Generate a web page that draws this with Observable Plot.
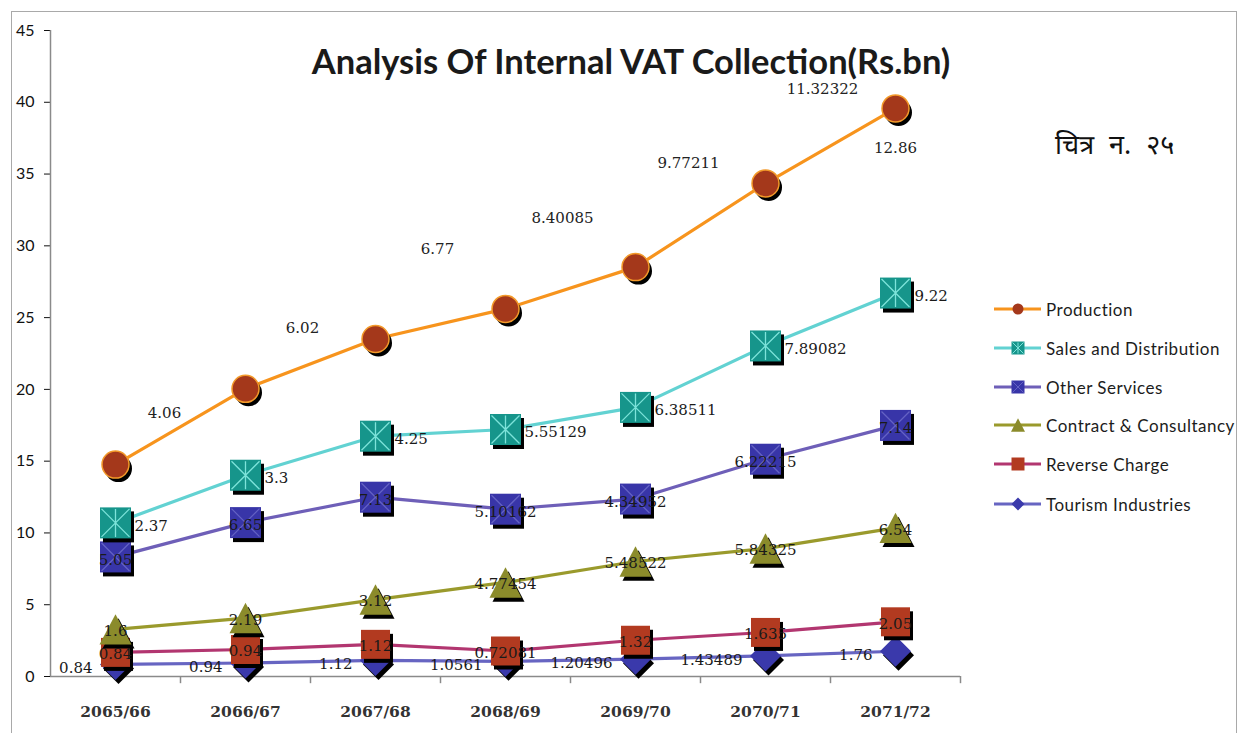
<!DOCTYPE html>
<html>
<head>
<meta charset="utf-8">
<script src="https://cdn.jsdelivr.net/npm/d3@7"></script>
<script src="https://cdn.jsdelivr.net/npm/@observablehq/plot@0.6"></script>
<style>
  html, body { margin: 0; padding: 0; background: #fff; }
  #wrap { position: relative; width: 1243px; height: 733px; overflow: hidden; background: #fff; }
  #frame { position: absolute; left: 11px; top: 11px; width: 1226px; height: 760px; border: 1.5px solid #a9a9a9; box-sizing: border-box; }
  #chart { position: absolute; left: 0; top: 0; }
  #title { position: absolute; left: 631px; top: 44px; transform: translateX(-50%); white-space: nowrap;
           font-family: Lato, "Open Sans", sans-serif; font-size: 34.5px; font-weight: bold; line-height: 34px; color: #1a1a1a; }
  #fig { position: absolute; left: 1055px; top: 131px; white-space: nowrap; word-spacing: 8px;
         font-family: "Noto Sans Devanagari", "Lohit Devanagari", "Noto Sans", "DejaVu Sans", sans-serif; font-size: 27px; line-height: 34px; color: #111; }
  #legend { position: absolute; left: 993px; top: 0; }
  .lg-row { position: absolute; left: 0; height: 22px; display: flex; align-items: center; white-space: nowrap; }
  .lg-row span { font-family: Lato, "Open Sans", sans-serif; font-size: 17px; letter-spacing: 0.5px; color: #1c1c1c; margin-left: 3px; }
</style>
</head>
<body>
<div id="wrap">
  <div id="frame"></div>
  <div id="chart"></div>
  <div id="title">Analysis Of Internal VAT Collection(Rs.bn)</div>
  <div id="fig">चित्र न. २५</div>
  <div id="legend"></div>
</div>
<script>
// ---------------- data ----------------
const categories = ["2065/66", "2066/67", "2067/68", "2068/69", "2069/70", "2070/71", "2071/72"];
const seriesNames = ["Production", "Sales and Distribution", "Other Services", "Contract & Consultancy", "Reverse Charge", "Tourism Industries"];
const production    = [4.06, 6.02, 6.77, 8.40085, 9.77211, 11.32322, 12.86];
const sales         = [2.37, 3.3, 4.25, 5.55129, 6.38511, 7.89082, 9.22];
const otherServices = [5.05, 6.65, 7.13, 5.10162, 4.34952, 6.22215, 7.14];
const contract      = [1.6, 2.19, 3.12, 4.77454, 5.48522, 5.84325, 6.54];
const reverseCharge = [0.84, 0.94, 1.12, 0.72081, 1.32, 1.635, 2.05];
const tourism       = [0.84, 0.94, 1.12, 1.0561, 1.20496, 1.43489, 1.76];
const yTicks = [0, 5, 10, 15, 20, 25, 30, 35, 40, 45];

// ---------------- custom marker shapes (size = pi*r^2) ----------------
const rOf = size => Math.sqrt(size / Math.PI);
const SYM = {
  circle:   { draw(c, s) { const r = rOf(s); c.moveTo(r, 0); c.arc(0, 0, r, 0, 2 * Math.PI); c.closePath(); } },
  square:   { draw(c, s) { const r = rOf(s); c.moveTo(-r, -r); c.lineTo(r, -r); c.lineTo(r, r); c.lineTo(-r, r); c.closePath(); } },
  triangle: { draw(c, s) { const r = rOf(s), h = r * 0.95; c.moveTo(0, -h); c.lineTo(r, h); c.lineTo(-r, h); c.closePath(); } },
  diamond:  { draw(c, s) { const r = rOf(s); c.moveTo(0, -r); c.lineTo(r, 0); c.lineTo(0, r); c.lineTo(-r, 0); c.closePath(); } },
  star:     { draw(c, s) { const r = rOf(s); c.moveTo(-r, -r); c.lineTo(r, r); c.moveTo(r, -r); c.lineTo(-r, r); c.moveTo(0, -r); c.lineTo(0, r); } },
  times:    { draw(c, s) { const r = rOf(s); c.moveTo(-r, -r); c.lineTo(r, r); c.moveTo(r, -r); c.lineTo(-r, r); } }
};

// ---------------- styles per series ----------------
const style = {
  "Production":             { line: "#f7941d", fill: "#a4381b", stroke: "#f39a2a", symbol: "circle",   r: 13.5, overlay: null },
  "Sales and Distribution": { line: "#62d2d2", fill: "#16958b", stroke: "none",    symbol: "square",   r: 15.5, overlay: { symbol: "star",  stroke: "#7de3da" } },
  "Other Services":         { line: "#6e5fb8", fill: "#3835a8", stroke: "none",    symbol: "square",   r: 15.5, overlay: { symbol: "times", stroke: "#6462c4" } },
  "Contract & Consultancy": { line: "#9a9a2c", fill: "#8b8b2b", stroke: "none",    symbol: "triangle", r: 16,   overlay: null },
  "Reverse Charge":         { line: "#b23670", fill: "#b23a20", stroke: "none",    symbol: "square",   r: 14.5, overlay: null },
  "Tourism Industries":     { line: "#6765c2", fill: "#3a39ab", stroke: "none",    symbol: "diamond",  r: 15.5, overlay: null }
};
// label placement per series
const labelPlace = {
  "Production":             { anchor: "middle", dx: 0,   dy: 0 },
  "Sales and Distribution": { anchor: "start",  dx: 19,  dy: 3 },
  "Other Services":         { anchor: "middle", dx: 0,   dy: 3 },
  "Contract & Consultancy": { anchor: "middle", dx: 0,   dy: 2 },
  "Reverse Charge":         { anchor: "middle", dx: 0,   dy: 2 },
  "Tourism Industries":     { anchor: "end",    dx: -23, dy: 4 }
};
// hand-placed production labels (pixel nudges)
const productionNudge = [[49, -51], [57, -61], [62, -90], [57, -91], [53, -104], [57, -94], [0, 40]];

// ---------------- stacked table ----------------
const valuesBySeries = {
  "Production": production,
  "Sales and Distribution": sales,
  "Other Services": otherServices,
  "Contract & Consultancy": contract,
  "Reverse Charge": reverseCharge,
  "Tourism Industries": tourism
};
const stackOrder = seriesNames.slice().reverse(); // bottom to top
const cum = categories.map(() => 0);
const rows = [];
for (const s of stackOrder) {
  valuesBySeries[s].forEach((v, i) => {
    cum[i] += v;
    rows.push({ series: s, i, cat: categories[i], value: v, top: cum[i] });
  });
}
const idx = categories.map((_, i) => i);

// ---------------- marks ----------------
const axisColor = "#8a8a8a";
const marks = [
  Plot.ruleX([-0.5], { stroke: axisColor, strokeWidth: 1.5 }),
  Plot.ruleY([0], { x1: -0.5, x2: categories.length - 0.5, stroke: axisColor, strokeWidth: 1.5 }),
  Plot.ruleX(idx.map(i => i + 0.5), { y1: 0, y2: -0.5, stroke: axisColor, strokeWidth: 1.5 }),
  Plot.text(idx, { x: d => d, y: 0, text: d => categories[d], dy: 36, fontFamily: "DejaVu Serif", fontWeight: "bold", fontSize: 15.5, fill: "#333" })
];
for (const s of stackOrder) {
  const st = style[s];
  marks.push(Plot.line(rows.filter(d => d.series === s), { x: "i", y: "top", stroke: st.line, strokeWidth: 3.2 }));
}
for (const s of stackOrder) {
  const st = style[s];
  const data = rows.filter(d => d.series === s);
  marks.push(Plot.dot(data, { x: "i", y: "top", symbol: SYM[st.symbol], r: st.r, fill: "#000", stroke: "none", dx: 3, dy: 4 }));
  marks.push(Plot.dot(data, { x: "i", y: "top", symbol: SYM[st.symbol], r: st.r, fill: st.fill, stroke: st.stroke, strokeWidth: 1.5 }));
  if (st.overlay) {
    marks.push(Plot.dot(data, { x: "i", y: "top", symbol: SYM[st.overlay.symbol], r: st.r - 1.5, fill: "none", stroke: st.overlay.stroke, strokeWidth: 1.3 }));
  }
}
for (const s of stackOrder) {
  const lp = labelPlace[s];
  const data = rows.filter(d => d.series === s);
  if (s === "Production") {
    data.forEach((d, k) => {
      marks.push(Plot.text([d], { x: "i", y: "top", text: d => String(d.value), dx: productionNudge[k][0], dy: productionNudge[k][1],
        fontFamily: "DejaVu Serif", fontSize: 15, fill: "#222", textAnchor: "middle" }));
    });
  } else {
    marks.push(Plot.text(data, { x: "i", y: "top", text: d => String(d.value), dx: lp.dx, dy: lp.dy,
      textAnchor: lp.anchor, fontFamily: "DejaVu Serif", fontSize: 15, fill: "#1a1a1a" }));
  }
}

const chart = Plot.plot({
  width: 1243,
  height: 733,
  marginLeft: 50,
  marginRight: 283,
  marginTop: 30,
  marginBottom: 57,
  x: { type: "linear", domain: [-0.5, categories.length - 0.5], axis: null },
  y: { domain: [0, 45], ticks: yTicks, tickSize: 6, tickPadding: 10, label: null, line: false },
  style: { fontFamily: "Lato, 'Open Sans', sans-serif", fontSize: "16px", color: "#111", background: "transparent", overflow: "visible" },
  marks
});
document.getElementById("chart").appendChild(chart);

// ---------------- legend ----------------
const legendRowsY = [309, 348, 387, 425, 464, 504];
const legend = d3.select("#legend");
seriesNames.forEach((s, k) => {
  const st = style[s];
  const row = legend.append("div").attr("class", "lg-row").style("top", (legendRowsY[k] - 11) + "px");
  const svg = row.append("svg").attr("width", 50).attr("height", 22);
  svg.append("line").attr("x1", 1).attr("x2", 48).attr("y1", 11).attr("y2", 11).attr("stroke", st.line).attr("stroke-width", 3.2);
  const lr = st.symbol === "circle" ? 5.5 : st.symbol === "triangle" ? 7 : 6.5;
  svg.append("path").attr("transform", "translate(25,11)")
    .attr("d", d3.symbol(SYM[st.symbol], Math.PI * lr * lr)())
    .attr("fill", st.fill);
  if (st.overlay) {
    svg.append("path").attr("transform", "translate(25,11)")
      .attr("d", d3.symbol(SYM[st.overlay.symbol], Math.PI * (lr - 1) * (lr - 1))())
      .attr("fill", "none").attr("stroke", st.overlay.stroke).attr("stroke-width", 1);
  }
  row.append("span").text(s);
});
</script>
</body>
</html>
